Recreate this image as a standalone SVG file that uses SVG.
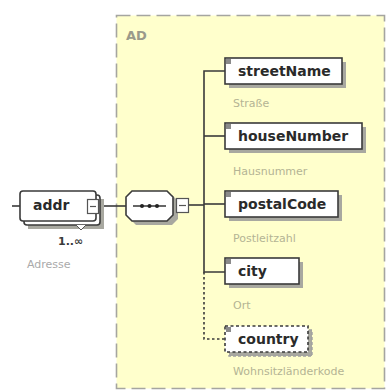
<svg xmlns="http://www.w3.org/2000/svg" width="387" height="392" viewBox="0 0 387 392">
<style>
.name{font-family:"DejaVu Sans",Verdana,sans-serif;font-weight:bold;font-size:14px;fill:#2a2a2a}
.desc{font-family:"DejaVu Sans",Verdana,sans-serif;font-size:11px;fill:#b4b494}
.box{fill:#fff;stroke:#3a3a3a;stroke-width:1.6}
.shadow{fill:#a8a8a0}
.conn{fill:none;stroke:#3a3a3a;stroke-width:1.6}
.mark{fill:#8a8a8a}
.btn{fill:#fff;stroke:#555;stroke-width:1.2}
</style>
<rect width="387" height="392" fill="#fff"/>
<g id="AD">
<rect x="116.5" y="15.5" width="268" height="373" fill="#ffffcc" stroke="#a5a5a0" stroke-width="1.6" stroke-dasharray="14,6"/>
<text x="126" y="40" font-family="DejaVu Sans,sans-serif" font-weight="bold" font-size="13" fill="#9a9a8a">AD</text>
</g>
<g id="connectors">
<line class="conn" x1="12" y1="206" x2="20" y2="206"/>
<line class="conn" x1="99" y1="206" x2="126" y2="206"/>
<line class="conn" x1="173" y1="206" x2="176" y2="206"/>
<line class="conn" x1="189" y1="205" x2="204" y2="205"/>
<polyline class="conn" points="225,71 204,71 204,272 225,272"/>
<line class="conn" x1="204" y1="136" x2="225" y2="136"/>
<line class="conn" x1="204" y1="204" x2="225" y2="204"/>
<polyline class="conn" points="204,272 204,339 225,339" stroke-dasharray="2.5,2.5"/>
</g>
<g id="addr">
<rect class="shadow" x="28" y="199" width="76" height="30"/>
<rect class="box" x="24" y="195" width="76" height="30" rx="3"/>
<rect class="box" x="20" y="191" width="76" height="30" rx="3"/>
<path d="M76 225 L81 230 L86 225" fill="#fff" stroke="#555" stroke-width="1"/>
<text class="name" x="33" y="210">addr</text>
<rect class="btn" x="87.5" y="199.5" width="11" height="14"/>
<line x1="90" y1="206.5" x2="96" y2="206.5" stroke="#555" stroke-width="1.2"/>
<text x="58" y="245" font-family="DejaVu Sans,sans-serif" font-weight="bold" font-size="11" fill="#3a3a3a">1..∞</text>
<text class="desc" x="27" y="268" style="fill:#aaaaaa">Adresse</text>
</g>
<g id="sequence">
<path class="shadow" d="M136 195 L172 195 L178 201 L178 219 L172 225 L136 225 L130 219 L130 201 Z"/>
<path class="box" d="M132 191 L167 191 L173 197 L173 215 L167 221 L132 221 L126 215 L126 197 Z"/>
<line x1="133" y1="206" x2="166" y2="206" stroke="#333" stroke-width="1.4"/>
<circle cx="142" cy="206" r="2" fill="#222"/>
<circle cx="149.5" cy="206" r="2" fill="#222"/>
<circle cx="157" cy="206" r="2" fill="#222"/>
<rect class="btn" x="176.5" y="198.5" width="12" height="14"/>
<line x1="179" y1="205.5" x2="186" y2="205.5" stroke="#555" stroke-width="1.2"/>
</g>
<g id="streetName">
<rect class="shadow" x="229" y="62" width="117" height="26"/>
<rect class="box" x="225" y="58" width="117" height="26"/>
<rect class="mark" x="226" y="59" width="5" height="5"/>
<text class="name" x="238" y="76">streetName</text>
<text class="desc" x="233" y="107">Straße</text>
</g>
<g id="houseNumber">
<rect class="shadow" x="229" y="127" width="137" height="26"/>
<rect class="box" x="225" y="123" width="137" height="26"/>
<rect class="mark" x="226" y="124" width="5" height="5"/>
<text class="name" x="238" y="141">houseNumber</text>
<text class="desc" x="233" y="175">Hausnummer</text>
</g>
<g id="postalCode">
<rect class="shadow" x="229" y="195" width="113" height="26"/>
<rect class="box" x="225" y="191" width="113" height="26"/>
<rect class="mark" x="226" y="192" width="5" height="5"/>
<text class="name" x="238" y="209">postalCode</text>
<text class="desc" x="233" y="242">Postleitzahl</text>
</g>
<g id="city">
<rect class="shadow" x="229" y="262" width="74" height="26"/>
<rect class="box" x="225" y="258" width="74" height="26"/>
<rect class="mark" x="226" y="259" width="5" height="5"/>
<text class="name" x="238" y="276">city</text>
<text class="desc" x="233" y="309">Ort</text>
</g>
<g id="country">
<rect x="229" y="330" width="83" height="26" fill="#a8a8a0" stroke="#a0a0a0" stroke-width="1.4" stroke-dasharray="3,2"/>
<rect x="225" y="326" width="83" height="26" fill="#fff" stroke="#3a3a3a" stroke-width="1.6" stroke-dasharray="3,2.5"/>
<rect class="mark" x="226" y="327" width="5" height="5"/>
<text class="name" x="238" y="344">country</text>
<text class="desc" x="233" y="375">Wohnsitzländerkode</text>
</g>
</svg>
